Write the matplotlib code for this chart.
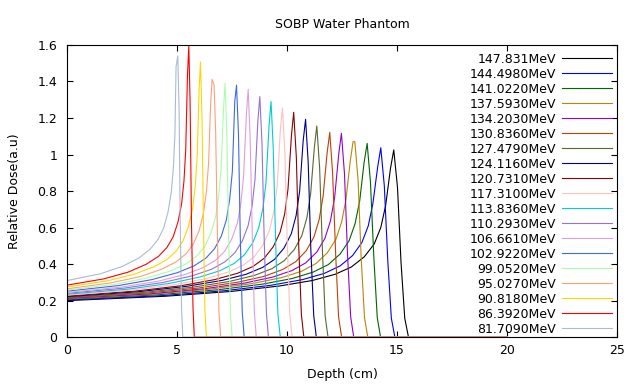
import numpy as np
import matplotlib
matplotlib.use("Agg")
import matplotlib.pyplot as plt
from matplotlib.ticker import FuncFormatter

# beam energies (legend order) and gnuplot-like colours
energies = ["147.831MeV", "144.4980MeV", "141.0220MeV", "137.5930MeV", "134.2030MeV",
            "130.8360MeV", "127.4790MeV", "124.1160MeV", "120.7310MeV", "117.3100MeV",
            "113.8360MeV", "110.2930MeV", "106.6610MeV", "102.9220MeV", "99.0520MeV",
            "95.0270MeV", "90.8180MeV", "86.3920MeV", "81.7090MeV"]
colors = ["#000000", "#0000ff", "#006400", "#b8860b", "#9400d3",
          "#c04000", "#556b2f", "#00008b", "#8b0000", "#ffc0c0",
          "#00ced1", "#9370db", "#dda0dd", "#4169e1", "#a8ffa8",
          "#ffa07a", "#ffd700", "#ff0000", "#a8bcd4"]

# depth (cm) / dose, one pair of lists per energy
d_147 = [0, 4.46, 7.43, 9.65, 11.14, 12.18, 12.92, 13.51, 13.96, 14.26, 14.48, 14.70, 14.85, 15.02, 15.18, 15.35, 15.52, 20]
y_147 = [0.200, 0.224, 0.250, 0.280, 0.310, 0.344, 0.384, 0.440, 0.510, 0.600, 0.720, 0.923, 1.025, 0.820, 0.410, 0.103, 0, 0]
d_144 = [0, 4.28, 7.13, 9.27, 10.70, 11.69, 12.41, 12.98, 13.40, 13.69, 13.90, 14.12, 14.26, 14.42, 14.58, 14.74, 14.90, 20]
y_144 = [0.203, 0.227, 0.254, 0.284, 0.315, 0.349, 0.390, 0.447, 0.518, 0.609, 0.731, 0.933, 1.037, 0.830, 0.415, 0.104, 0, 0]
d_141 = [0, 4.09, 6.82, 8.87, 10.23, 11.18, 11.87, 12.41, 12.82, 13.09, 13.30, 13.50, 13.64, 13.79, 13.95, 14.10, 14.25, 20]
y_141 = [0.207, 0.232, 0.259, 0.290, 0.321, 0.356, 0.397, 0.455, 0.528, 0.621, 0.745, 0.955, 1.061, 0.849, 0.424, 0.106, 0, 0]
d_137 = [0, 3.90, 6.50, 8.45, 9.75, 10.66, 11.31, 11.83, 12.22, 12.48, 12.68, 12.87, 13.00, 13.08, 13.23, 13.37, 13.52, 13.67, 20]
y_137 = [0.210, 0.235, 0.263, 0.294, 0.326, 0.361, 0.403, 0.462, 0.536, 0.630, 0.756, 0.963, 1.070, 1.070, 0.856, 0.428, 0.107, 0, 0]
d_134 = [0, 3.74, 6.24, 8.11, 9.35, 10.23, 10.85, 11.35, 11.72, 11.97, 12.16, 12.35, 12.47, 12.61, 12.75, 12.89, 13.03, 20]
y_134 = [0.212, 0.237, 0.265, 0.297, 0.329, 0.365, 0.407, 0.466, 0.541, 0.636, 0.763, 1.004, 1.116, 0.893, 0.446, 0.112, 0, 0]
d_130 = [0, 3.58, 5.97, 7.76, 8.96, 9.79, 10.39, 10.87, 11.22, 11.46, 11.64, 11.82, 11.94, 12.07, 12.21, 12.34, 12.48, 20]
y_130 = [0.215, 0.241, 0.269, 0.301, 0.333, 0.370, 0.413, 0.473, 0.548, 0.645, 0.774, 1.009, 1.121, 0.897, 0.448, 0.112, 0, 0]
d_127 = [0, 3.41, 5.68, 7.38, 8.51, 9.31, 9.87, 10.33, 10.67, 10.90, 11.07, 11.24, 11.35, 11.48, 11.61, 11.73, 11.86, 20]
y_127 = [0.218, 0.244, 0.273, 0.305, 0.338, 0.375, 0.419, 0.480, 0.556, 0.654, 0.785, 1.040, 1.156, 0.925, 0.462, 0.116, 0, 0]
d_124 = [0, 3.25, 5.42, 7.05, 8.13, 8.89, 9.43, 9.86, 10.19, 10.41, 10.57, 10.73, 10.84, 10.96, 11.08, 11.21, 11.33, 20]
y_124 = [0.222, 0.249, 0.278, 0.311, 0.344, 0.382, 0.426, 0.488, 0.566, 0.666, 0.799, 1.074, 1.193, 0.954, 0.477, 0.119, 0, 0]
d_120 = [0, 3.09, 5.15, 6.70, 7.73, 8.45, 8.96, 9.37, 9.68, 9.89, 10.04, 10.20, 10.30, 10.42, 10.53, 10.65, 10.76, 20]
y_120 = [0.225, 0.252, 0.281, 0.315, 0.349, 0.387, 0.432, 0.495, 0.574, 0.675, 0.810, 1.108, 1.231, 0.985, 0.492, 0.123, 0, 0]
d_117 = [0, 2.94, 4.90, 6.36, 7.34, 8.03, 8.52, 8.91, 9.20, 9.40, 9.55, 9.69, 9.79, 9.90, 10.01, 10.12, 10.23, 20]
y_117 = [0.230, 0.258, 0.288, 0.322, 0.357, 0.396, 0.442, 0.506, 0.587, 0.690, 0.828, 1.130, 1.256, 1.005, 0.502, 0.126, 0, 0]
d_113 = [0, 2.78, 4.64, 6.03, 6.95, 7.60, 8.06, 8.44, 8.71, 8.90, 9.04, 9.18, 9.27, 9.37, 9.48, 9.58, 9.69, 20]
y_113 = [0.235, 0.263, 0.294, 0.329, 0.364, 0.404, 0.451, 0.517, 0.599, 0.705, 0.846, 1.161, 1.290, 1.032, 0.516, 0.129, 0, 0]
d_110 = [0, 2.63, 4.38, 5.69, 6.57, 7.18, 7.62, 7.97, 8.23, 8.41, 8.54, 8.67, 8.76, 8.86, 8.96, 9.06, 9.15, 20]
y_110 = [0.240, 0.269, 0.300, 0.336, 0.372, 0.413, 0.461, 0.528, 0.612, 0.720, 0.864, 1.185, 1.317, 1.054, 0.527, 0.132, 0, 0]
d_106 = [0, 2.47, 4.12, 5.35, 6.17, 6.75, 7.16, 7.49, 7.74, 7.90, 8.02, 8.15, 8.23, 8.32, 8.42, 8.51, 8.60, 20]
y_106 = [0.245, 0.274, 0.306, 0.343, 0.380, 0.421, 0.470, 0.539, 0.625, 0.735, 0.882, 1.221, 1.357, 1.086, 0.543, 0.136, 0, 0]
d_102 = [0, 2.31, 3.85, 5.01, 5.78, 6.31, 6.70, 7.01, 7.24, 7.39, 7.51, 7.62, 7.70, 7.79, 7.87, 7.96, 8.05, 20]
y_102 = [0.252, 0.282, 0.315, 0.353, 0.391, 0.433, 0.484, 0.554, 0.643, 0.756, 0.907, 1.290, 1.380, 1.104, 0.552, 0.138, 0, 0]
d_99 = [0, 2.15, 3.59, 4.67, 5.39, 5.89, 6.25, 6.53, 6.75, 6.89, 7.00, 7.11, 7.18, 7.26, 7.34, 7.42, 7.50, 20]
y_99 = [0.258, 0.289, 0.323, 0.361, 0.400, 0.444, 0.495, 0.568, 0.658, 0.774, 0.929, 1.251, 1.390, 1.112, 0.556, 0.139, 0, 0]
d_95 = [0, 1.98, 3.30, 4.28, 4.94, 5.40, 5.73, 6.00, 6.19, 6.33, 6.43, 6.52, 6.59, 6.68, 6.75, 6.83, 6.90, 6.98, 20]
y_95 = [0.265, 0.297, 0.331, 0.371, 0.411, 0.456, 0.509, 0.583, 0.676, 0.795, 0.954, 1.271, 1.412, 1.380, 1.130, 0.565, 0.141, 0, 0]
d_90 = [0, 1.82, 3.03, 3.94, 4.55, 4.97, 5.27, 5.51, 5.70, 5.82, 5.91, 6.00, 6.06, 6.13, 6.20, 6.26, 6.33, 20]
y_90 = [0.275, 0.308, 0.344, 0.385, 0.426, 0.473, 0.528, 0.605, 0.701, 0.825, 0.990, 1.356, 1.507, 1.206, 0.603, 0.151, 0, 0]
d_86 = [0, 1.66, 2.77, 3.59, 4.15, 4.53, 4.81, 5.03, 5.20, 5.31, 5.39, 5.47, 5.53, 5.59, 5.65, 5.72, 5.78, 20]
y_86 = [0.285, 0.319, 0.356, 0.399, 0.442, 0.490, 0.547, 0.627, 0.727, 0.855, 1.026, 1.436, 1.595, 1.276, 0.638, 0.160, 0, 0]
d_81 = [0, 1.51, 2.52, 3.27, 3.77, 4.12, 4.38, 4.58, 4.73, 4.83, 4.90, 4.95, 5.03, 5.09, 5.14, 5.20, 5.26, 20]
y_81 = [0.310, 0.347, 0.388, 0.434, 0.481, 0.533, 0.595, 0.682, 0.791, 0.930, 1.116, 1.480, 1.540, 1.232, 0.616, 0.154, 0, 0]

depths = [d_147, d_144, d_141, d_137, d_134, d_130, d_127, d_124, d_120, d_117,
          d_113, d_110, d_106, d_102, d_99, d_95, d_90, d_86, d_81]
doses = [y_147, y_144, y_141, y_137, y_134, y_130, y_127, y_124, y_120, y_117,
         y_113, y_110, y_106, y_102, y_99, y_95, y_90, y_86, y_81]

plt.rcParams['font.family'] = ['DejaVu Sans']
plt.rcParams['font.size'] = 9

fig = plt.figure(figsize=(6.4, 3.84), dpi=100)
ax = fig.add_axes([0.105, 0.122, 0.859, 0.761])

for d, y, c, lab in zip(depths, doses, colors, energies):
    ax.plot(d, y, color=c, lw=0.8, label=lab)

ax.set_xlim(0, 25)
ax.set_ylim(0, 1.6)
ax.set_xticks(np.arange(0, 26, 5))
ax.set_yticks(np.arange(0, 1.61, 0.2))
ax.yaxis.set_major_formatter(FuncFormatter(lambda v, p: '%g' % round(v, 2)))
ax.tick_params(direction='in', top=True, right=True, length=4, width=0.8)
ax.tick_params(axis='y', pad=7)
ax.tick_params(axis='x', pad=5)
for s in ax.spines.values():
    s.set_linewidth(0.8)

ax.set_title('SOBP Water Phantom', fontsize=9, pad=12)
ax.set_xlabel('Depth (cm)', labelpad=8)
ax.set_ylabel('Relative Dose(a.u)', labelpad=12)

leg = ax.legend(loc='upper right', bbox_to_anchor=(1.0, 0.991), frameon=False,
                markerfirst=False, handlelength=4.0, handletextpad=0.48,
                labelspacing=0.16, borderaxespad=0, borderpad=0.4, fontsize=9)

fig.savefig('out.png', dpi=100)
